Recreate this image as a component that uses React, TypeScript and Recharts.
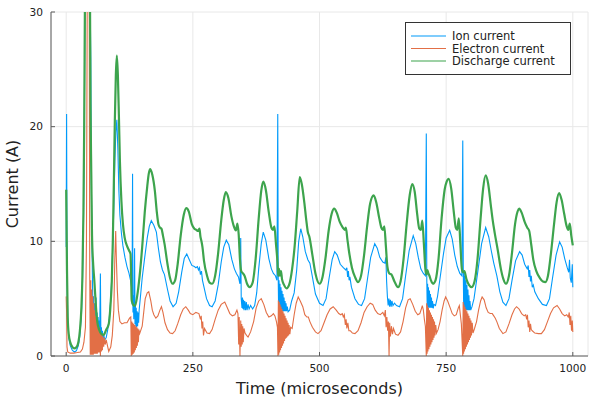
import { CartesianGrid, Label, Legend, Line, LineChart, XAxis, YAxis } from 'recharts'

// [time in microseconds, current in A]
const ionCurrent: [number, number][] = [
  [0, 9.5], [0.8, 21.1], [1.6, 7.5], [3, 3.0], [5, 1.6], [8, 0.9], [12, 0.5], [16, 0.35], [20, 0.45], [24, 0.9],
  [27, 1.8], [30, 3.5], [32, 6.0], [34, 11], [35.5, 18], [37, 30], [40, 42], [44, 40], [47, 32], [48.5, 26],
  [49.5, 16], [50.5, 11], [51.3, 8.5], [52, 6.0], [53, 3.8], [54, 5.2], [55, 3.2], [56, 4.6], [57, 2.8], [58, 4.2],
  [59, 5.1], [60, 2.5], [61, 3.8], [62, 2.2], [63, 3.4], [64, 2.0], [65, 3.1], [66, 1.7], [67.5, 7.2], [68.5, 1.5],
  [69.5, 2.5], [70.5, 1.4], [71.5, 2.2], [72.5, 1.4], [74, 1.9], [76, 1.4], [79, 1.6], [82, 2.3], [85, 3.3], [88, 5.0],
  [90, 7.0], [92, 9.8], [94, 13], [96, 17], [98, 19.5], [100, 20.6], [102, 18.0], [104, 14.4], [106, 12.3], [109, 10.7],
  [112, 9.6], [116, 8.6], [120, 7.8], [124, 7.2], [127, 6.6], [129, 6.0], [130, 4.5], [131, 15.9], [131.8, 3.8], [132.6, 5.3],
  [133.4, 3.2], [134.2, 4.9], [135, 9.4], [135.8, 2.8], [136.6, 4.5], [137.4, 2.6], [138.2, 4.2], [139, 2.5], [140, 3.9], [141, 2.6],
  [142, 3.8], [143, 2.9], [144, 4.0], [146, 4.9], [150, 6.8], [155, 8.6], [160, 10.3], [164, 11.3], [168, 11.8], [173, 11.4],
  [178, 10.8], [182, 9.4], [186, 8.2], [190, 7.5], [194, 7.1], [200, 5.8], [205, 4.8], [211, 4.3], [217, 4.6], [222, 5.6],
  [228, 7.3], [233, 8.5], [238, 8.9], [243, 8.4], [248, 7.9], [253, 7.8], [256, 7.7], [259, 7.8], [261, 7.5], [263, 7.7],
  [265, 7.1], [267, 7.4], [269, 6.6], [272, 6.0], [277, 5.0], [283, 4.4], [288, 4.3], [294, 4.8], [300, 6.2], [306, 8.2],
  [311, 9.5], [316, 10.1], [321, 9.7], [327, 8.4], [332, 7.6], [336, 7.2], [340, 6.9], [343, 6.3], [344.5, 10.3], [345.5, 5.0],
  [347, 4.2], [348, 5.1], [349, 4.1], [350, 4.9], [351, 4.0], [352.5, 4.8], [354, 4.0], [355.5, 4.7], [357, 4.0], [359, 4.5],
  [361, 4.1], [364, 4.4], [368, 4.1], [372, 4.4], [376, 5.5], [380, 7.6], [385, 9.8], [389, 10.8], [394, 10.1], [400, 8.5],
  [405, 7.6], [409, 7.2], [413, 7.0], [416, 6.6], [417.6, 21.1], [418.5, 6.9], [419.3, 4.0], [420.1, 6.6], [421, 3.9], [422, 6.3],
  [423, 3.9], [424, 6.0], [425, 3.9], [426, 5.7], [427, 3.9], [428, 5.4], [429, 3.9], [430, 5.1], [431, 3.9], [432, 4.8],
  [433, 3.9], [434, 4.6], [435, 3.9], [436.5, 4.3], [438, 3.85], [441, 4.0], [445, 4.8], [450, 5.5], [455, 7.5], [459, 10.0],
  [463, 11.1], [467, 10.4], [472, 9.1], [477, 8.4], [481, 8.1], [486, 6.9], [492, 5.4], [500, 4.6], [507, 4.4], [513, 5.0],
  [519, 6.8], [525, 8.4], [530, 9.1], [535, 8.8], [541, 8.0], [547, 7.7], [552, 7.5], [554, 7.7], [555.5, 6.9], [557, 7.4],
  [558.5, 6.6], [560, 6.9], [563, 6.0], [570, 5.0], [577, 4.5], [583, 4.4], [589, 5.0], [595, 6.8], [601, 8.6], [609, 9.8],
  [614, 9.4], [619, 8.6], [625, 8.2], [629, 8.1], [631, 8.6], [632.5, 6.5], [634, 5.2], [635.5, 4.4], [637, 5.0], [638.5, 4.3],
  [640, 4.9], [641.5, 4.3], [643, 4.8], [645, 4.4], [648, 4.6], [652, 4.4], [658, 4.3], [664, 5.0], [670, 7.0], [677, 9.2],
  [685, 10.5], [690, 9.8], [695, 8.6], [700, 7.6], [705, 7.2], [709, 7.0], [710.8, 19.4], [711.8, 6.6], [712.6, 4.2], [713.4, 6.3],
  [714.2, 4.2], [715, 6.0], [716, 4.2], [717, 5.7], [718, 4.2], [719, 5.4], [720, 4.2], [721, 5.1], [722, 4.2], [723, 4.8],
  [724.5, 4.15], [726, 4.5], [729, 4.4], [733, 5.2], [738, 6.8], [745, 9.0], [750, 10.3], [757, 10.96], [762, 10.2], [767, 8.8],
  [772, 7.8], [777, 7.2], [781, 7.0], [782.8, 18.8], [783.8, 7.6], [784.6, 4.1], [785.4, 7.3], [786.2, 4.1], [787, 7.0], [788, 4.0],
  [789, 6.6], [790, 4.0], [791, 6.2], [792, 4.0], [793, 5.8], [794, 4.0], [795, 5.3], [796, 4.0], [797, 4.8], [798.5, 4.0],
  [801, 4.3], [805, 5.0], [812, 7.2], [820, 9.8], [828, 11.2], [834, 10.4], [839, 9.2], [844, 8.1], [850, 7.0], [856, 5.6],
  [862, 4.7], [868, 4.4], [874, 5.0], [880, 6.6], [887, 8.3], [895, 9.1], [900, 8.8], [905, 8.0], [910, 7.6], [912, 7.9],
  [913.5, 6.9], [915, 7.5], [916.5, 6.5], [918, 7.0], [920, 6.0], [922, 6.2], [925, 5.6], [932, 5.0], [940, 4.5], [948, 4.4],
  [954, 5.0], [960, 6.8], [967, 8.8], [974, 9.95], [979, 9.5], [984, 8.5], [989, 7.7], [992, 7.3], [993.5, 8.4], [995, 6.8],
  [997, 6.4], [999, 8.0], [1000, 6.0],
]

const electronCurrent: [number, number][] = [
  [0, 5.2], [0.8, 3.8], [1.6, 0.8], [3, 0.35], [8, 0.25], [15, 0.25], [22, 0.3], [28, 0.35], [32, 0.6], [35, 1.2],
  [38, 2.5], [40, 10], [41.5, 31], [43.5, 40], [45.5, 30], [46.5, 7.0], [47.5, 0.1], [48.5, 6.6], [49.5, 0.1], [50.5, 5.8],
  [51.5, 0.1], [52.5, 5.2], [53.5, 0.1], [54.5, 4.6], [55.5, 0.2], [56.5, 4.0], [57.5, 0.2], [58.5, 3.5], [59.5, 0.2], [60.5, 3.1],
  [61.5, 0.2], [62.5, 2.8], [63.5, 0.3], [64.5, 2.5], [65.5, 0.3], [66.5, 2.3], [67.5, 0.0], [68.5, 2.0], [69.5, 0.4], [70.5, 1.9],
  [71.5, 0.5], [72.5, 1.7], [74, 0.8], [75.5, 1.6], [77, 1.0], [79, 1.4], [81, 1.0], [84, 0.4], [88, 0.8], [91, 1.8],
  [94, 4.0], [96, 8.5], [97.7, 10.9], [99, 8.5], [101, 5.7], [103, 4.0], [106, 3.0], [110, 2.8], [115, 2.9], [120, 2.9],
  [125, 3.3], [127.5, 3.4], [128.5, 0.0], [129.5, 3.0], [130.5, 0.1], [131.5, 2.9], [132.5, 0.2], [133.5, 2.8], [134.5, 0.3], [135.5, 2.7],
  [136.5, 0.5], [137.5, 2.6], [138.5, 0.7], [139.5, 2.5], [140.5, 0.9], [141.5, 2.4], [142.5, 1.2], [143.5, 2.3], [145, 1.95], [150, 2.6],
  [153, 3.8], [156, 5.0], [160, 5.5], [163, 5.6], [167, 4.8], [170, 4.0], [173, 3.6], [177, 3.3], [181, 3.5], [185, 4.0],
  [188, 4.3], [191, 3.8], [195, 2.9], [200, 2.3], [205, 2.0], [210, 1.95], [215, 2.2], [220, 2.8], [226, 3.6], [231, 4.1],
  [236, 4.3], [241, 4.0], [245, 3.7], [250, 3.6], [256, 3.8], [262, 3.7], [265, 3.2], [266.5, 3.5], [268, 2.4], [269.5, 3.0],
  [271, 1.8], [273, 2.4], [278, 2.0], [283, 1.95], [288, 2.3], [294, 3.2], [300, 4.0], [306, 4.5], [313, 4.7], [318, 4.2],
  [323, 3.7], [328, 3.5], [333, 3.6], [337, 4.0], [339, 3.7], [340.5, 1.0], [341.5, 3.4], [343, 0.0], [344.5, 3.1], [345.5, 0.8],
  [346.5, 2.8], [347.5, 1.0], [348.5, 2.6], [349.5, 1.2], [351, 2.4], [353, 2.0], [356, 1.8], [359, 1.65], [364, 2.1], [370, 3.0],
  [375, 4.2], [380, 4.8], [385, 5.0], [390, 4.5], [395, 3.8], [400, 3.4], [405, 3.5], [409, 3.7], [412, 3.5], [415, 3.0],
  [417, 2.5], [418, 0.0], [418.8, 4.85], [419.6, 0.1], [420.4, 4.7], [421.3, 0.3], [422.2, 4.5], [423.1, 0.5], [424, 4.3], [425, 0.7],
  [426, 4.1], [427, 0.9], [428, 3.9], [429, 1.1], [430, 3.7], [431, 1.3], [432, 3.5], [433, 1.5], [434, 3.3], [435, 1.6],
  [436, 3.1], [437, 1.7], [438, 2.9], [439, 1.8], [440, 2.7], [441.5, 1.9], [443, 2.5], [446, 2.4], [450, 3.6], [454, 4.6],
  [458, 5.15], [462, 4.8], [467, 4.3], [471, 3.6], [475, 3.4], [478, 3.4], [481, 3.0], [486, 2.5], [492, 2.1], [497, 1.95],
  [503, 2.2], [509, 2.9], [515, 3.6], [521, 4.1], [527, 4.3], [533, 4.0], [538, 3.7], [542, 3.6], [545, 3.7], [547, 3.4],
  [549, 3.6], [551, 2.7], [552.5, 3.2], [554, 2.4], [556, 2.9], [558, 2.2], [561, 2.2], [565, 2.0], [570, 1.95], [576, 2.2],
  [582, 2.9], [588, 3.8], [594, 4.3], [600, 4.6], [605, 4.5], [610, 4.0], [615, 3.7], [620, 3.6], [625, 3.8], [628, 3.5],
  [630, 4.0], [631.5, 2.5], [633, 3.4], [634.5, 2.2], [636, 3.0], [637.3, 0.0], [638.5, 2.9], [640, 1.7], [642, 2.6], [644, 1.9],
  [646, 2.4], [650, 1.9], [655, 1.8], [660, 2.1], [665, 3.0], [670, 4.2], [675, 4.9], [679, 5.0], [684, 4.5], [689, 3.9],
  [694, 3.6], [698, 3.7], [701, 4.1], [703, 4.4], [705, 4.0], [707, 3.2], [709, 2.6], [710.8, 0.0], [711.6, 4.6], [712.4, 0.2],
  [713.2, 4.4], [714, 0.4], [715, 4.2], [716, 0.6], [717, 4.0], [718, 0.8], [719, 3.8], [720, 1.0], [721, 3.6], [722, 1.2],
  [723, 3.4], [724, 1.4], [725, 3.2], [726, 1.6], [727, 3.0], [728, 1.8], [729.5, 2.7], [731, 2.0], [734, 2.3], [738, 3.0],
  [742, 4.0], [746, 4.8], [749, 5.15], [753, 4.8], [758, 4.2], [762, 3.7], [766, 3.5], [770, 3.6], [774, 4.2], [776, 4.4],
  [778, 3.6], [780, 2.8], [782.8, 0.0], [783.6, 4.7], [784.4, 0.2], [785.2, 4.5], [786, 0.4], [787, 4.3], [788, 0.6], [789, 4.1],
  [790, 0.8], [791, 3.9], [792, 1.0], [793, 3.7], [794, 1.2], [795, 3.5], [796, 1.4], [797, 3.3], [798, 1.6], [799, 3.1],
  [800, 1.8], [801.5, 2.9], [803, 2.0], [806, 2.4], [810, 3.0], [814, 4.0], [818, 4.8], [821, 5.15], [825, 4.9], [829, 4.2],
  [833, 3.8], [837, 3.7], [841, 3.7], [844, 3.5], [847, 3.3], [850, 3.0], [855, 2.4], [862, 1.95], [868, 2.1], [874, 2.8],
  [880, 3.6], [885, 4.1], [889, 4.3], [894, 4.1], [899, 3.7], [904, 3.5], [907, 3.6], [909, 3.2], [910.5, 3.6], [912, 2.5],
  [913.5, 3.1], [915, 2.1], [916.5, 2.8], [918, 2.3], [920, 2.2], [925, 2.0], [932, 1.95], [938, 1.95], [944, 2.3], [950, 3.0],
  [956, 3.7], [962, 4.2], [969, 4.4], [974, 4.1], [979, 3.7], [984, 3.5], [988, 3.6], [991, 3.4], [993, 3.8], [994.5, 2.7],
  [996, 3.5], [997.5, 2.2], [999, 3.1], [1000, 2.1],
]

const dischargeCurrent: [number, number][] = [
  [0, 14.5], [0.8, 11], [1.6, 7.5], [3, 3.4], [5, 1.9], [8, 1.2], [12, 0.8], [16, 0.67], [20, 0.75], [24, 1.2],
  [27, 2.2], [30, 4.2], [32, 7], [34, 12.5], [35.5, 20], [37, 31], [40, 48], [43, 50], [46, 40], [48, 22],
  [49.5, 16], [51, 10.5], [53, 8.2], [55.5, 6.6], [58, 4.8], [61, 3.1], [65, 2.3], [70, 1.9], [74, 1.85], [79, 2.3],
  [84, 2.8], [88, 4.8], [90, 6.5], [92, 10], [94, 15], [96, 20.5], [98, 24.5], [100, 26.2], [102, 24.5], [104, 21],
  [106, 17], [109, 13.5], [112, 11.5], [115.5, 10.3], [120, 9.6], [124, 9.2], [127, 8.9], [128.2, 7], [129.2, 4.9], [131, 4.6],
  [133, 4.4], [136, 4.4], [140, 5.2], [145, 7.0], [150, 9.5], [155, 12.5], [160, 14.8], [163, 15.9], [166, 16.3], [170, 15.8],
  [175, 14.4], [179, 12.5], [182, 11.5], [185, 11.2], [188, 11.1], [191, 10.5], [194, 9.8], [200, 8.0], [205, 6.8], [210, 6.3],
  [215, 6.6], [220, 8.0], [226, 10.5], [232, 12.3], [237, 12.9], [242, 12.6], [248, 11.5], [253, 11.1], [257, 11.0], [260, 10.9],
  [263, 11.1], [265, 10.4], [267, 10.0], [269, 9.5], [272, 8.3], [278, 7.0], [283, 6.4], [288, 6.3], [294, 7.0], [300, 9.0],
  [306, 11.8], [311, 13.6], [315, 14.3], [320, 13.8], [326, 12.2], [331, 11.3], [335, 10.95], [338, 11.55], [340.5, 10.6], [343, 8.4],
  [345.5, 7.4], [349, 7.2], [352, 7.0], [357, 6.3], [362, 6.0], [368, 6.4], [374, 8.5], [380, 12], [385, 14.4], [389, 15.2],
  [394, 14.5], [400, 12.5], [405, 11.2], [408, 11.0], [411, 11.3], [414, 9.8], [417, 8.2], [418.5, 7.0], [420, 7.6], [422, 7.0],
  [424, 7.4], [426, 6.7], [430, 6.2], [435, 5.9], [440, 6.2], [446, 7.6], [451, 9.6], [456, 12.6], [461, 15.6], [465, 15.0],
  [470, 13.4], [474, 11.8], [477, 10.8], [480, 10.4], [486, 8.8], [492, 7.2], [500, 6.3], [506, 6.9], [512, 8.6], [518, 10.9],
  [524, 12.4], [529, 12.85], [534, 12.5], [540, 11.7], [546, 11.2], [550, 11.0], [552, 11.2], [555, 10.2], [558, 9.2], [564, 7.7],
  [570, 6.9], [576, 6.45], [582, 7.0], [588, 8.8], [594, 11.3], [600, 13.3], [607, 14.0], [612, 13.4], [618, 12.0], [622, 11.2],
  [625, 11.0], [628, 11.3], [631, 9.6], [634, 7.8], [638, 7.2], [642, 7.1], [648, 6.5], [655, 6.0], [660, 6.5], [666, 8.5],
  [672, 11.5], [678, 14.0], [683, 15.0], [688, 14.3], [693, 12.3], [697, 11.1], [700, 11.0], [703, 11.8], [706, 9.8], [709, 7.6],
  [711, 7.1], [713, 7.5], [715, 7.2], [717, 7.0], [720, 6.6], [724, 6.3], [729, 6.6], [735, 8.5], [741, 12.0], [747, 14.5],
  [751, 15.2], [755, 15.45], [760, 14.6], [765, 12.6], [769, 11.2], [772, 11.0], [775, 12.0], [778, 9.8], [781, 7.6], [783, 7.3],
  [786, 7.4], [790, 6.7], [795, 6.2], [800, 6.0], [806, 6.5], [812, 8.5], [818, 12.0], [823, 14.6], [828, 15.75], [833, 15.0],
  [838, 13.2], [842, 11.8], [846, 10.7], [852, 9.2], [858, 7.6], [863, 6.7], [868, 6.3], [874, 7.0], [880, 9.0], [886, 11.5],
  [891, 12.6], [894, 12.85], [899, 12.5], [905, 11.7], [910, 11.2], [914, 10.9], [918, 9.7], [922, 8.4], [928, 7.4], [935, 6.8],
  [941, 6.5], [946, 6.45], [951, 7.0], [957, 9.0], [963, 11.5], [968, 13.4], [973, 14.2], [978, 13.6], [983, 12.4], [988, 11.3],
  [991, 11.0], [994, 11.55], [997, 10.5], [1000, 9.65],
]

const timeTicks = [0, 250, 500, 750, 1000]
const currentTicks = [0, 10, 20, 30]
const seriesNames = ['Ion current', 'Electron current', 'Discharge current']

const font = 'DejaVu Sans, sans-serif'
const axisColor = '#5c5c5c'

const toPoints = (pairs: [number, number][]) => pairs.map(([t, amps]) => ({ t, amps }))

function TimeTick({ x, y, payload }: any) {
  return (
    <g>
      <line x1={x} x2={x} y1={y - 8} y2={y - 12} stroke={axisColor} />
      <text x={x} y={y} dy="0.75em" textAnchor="middle" fontSize={10.6} fill="#222" fontFamily={font}>
        {payload.value}
      </text>
    </g>
  )
}

function CurrentTick({ x, y, payload }: any) {
  return (
    <g>
      <line x1={x + 8} x2={x + 12} y1={y} y2={y} stroke={axisColor} />
      <text x={x} y={y} dy="0.36em" textAnchor="end" fontSize={10.6} fill="#222" fontFamily={font}>
        {payload.value}
      </text>
    </g>
  )
}

function LegendBox({ payload }: any) {
  const items = seriesNames
    .map((name) => (payload ?? []).find((item: any) => item.value === name))
    .filter(Boolean)
  return (
    <svg width={166} height={53} style={{ display: 'block' }}>
      <rect x={0.5} y={0.5} width={165} height={52} fill="#fff" stroke="#333" />
      {items.map((item: any, i: number) => (
        <g key={item.value}>
          <line x1={6} x2={41} y1={14 + i * 12.5} y2={14 + i * 12.5} stroke={item.color} strokeWidth={1.2} />
          <text x={47} y={14 + i * 12.5} dy="0.36em" fontSize={11.5} fill="#222" fontFamily={font}>
            {item.value}
          </text>
        </g>
      ))}
    </svg>
  )
}

export default function App() {
  return (
    <div style={{ position: 'absolute', left: 0, top: 0, width: 600, height: 400, background: '#fff', fontFamily: font }}>
      <LineChart width={600} height={400} margin={{ top: 12, right: 12, bottom: 0, left: 0 }}>
        <CartesianGrid stroke="#e8e8e8" />
        <XAxis
          type="number"
          dataKey="t"
          domain={[-30, 1030]}
          ticks={timeTicks}
          interval={0}
          allowDataOverflow
          height={44}
          tickSize={0}
          tickMargin={8}
          tickLine={false}
          stroke={axisColor}
          tick={TimeTick}
        >
          <Label value="Time (microseconds)" position="insideBottom" offset={6} fontSize={16} fill="#222" fontFamily={font} />
        </XAxis>
        <YAxis
          type="number"
          domain={[0, 30]}
          ticks={currentTicks}
          interval={0}
          allowDataOverflow
          width={51}
          tickSize={0}
          tickMargin={8}
          tickLine={false}
          stroke={axisColor}
          tick={CurrentTick}
        >
          <Label
            value="Current (A)"
            angle={-90}
            position="insideLeft"
            offset={12}
            fontSize={16}
            fill="#222"
            fontFamily={font}
            style={{ textAnchor: 'middle' }}
          />
        </YAxis>
        <Legend
          layout="vertical"
          align="center"
          verticalAlign="middle"
          content={LegendBox}
          wrapperStyle={{ left: 405, top: 22, width: 166, height: 53 }}
        />
        <Line data={toPoints(ionCurrent)} dataKey="amps" name="Ion current" type="linear" stroke="#009AFA" strokeWidth={1.1} dot={false} isAnimationActive={false} />
        <Line data={toPoints(electronCurrent)} dataKey="amps" name="Electron current" type="linear" stroke="#E26F46" strokeWidth={1.1} dot={false} isAnimationActive={false} />
        <Line data={toPoints(dischargeCurrent)} dataKey="amps" name="Discharge current" type="monotone" stroke="#3DA44D" strokeWidth={2.2} dot={false} isAnimationActive={false} />
      </LineChart>
    </div>
  )
}
